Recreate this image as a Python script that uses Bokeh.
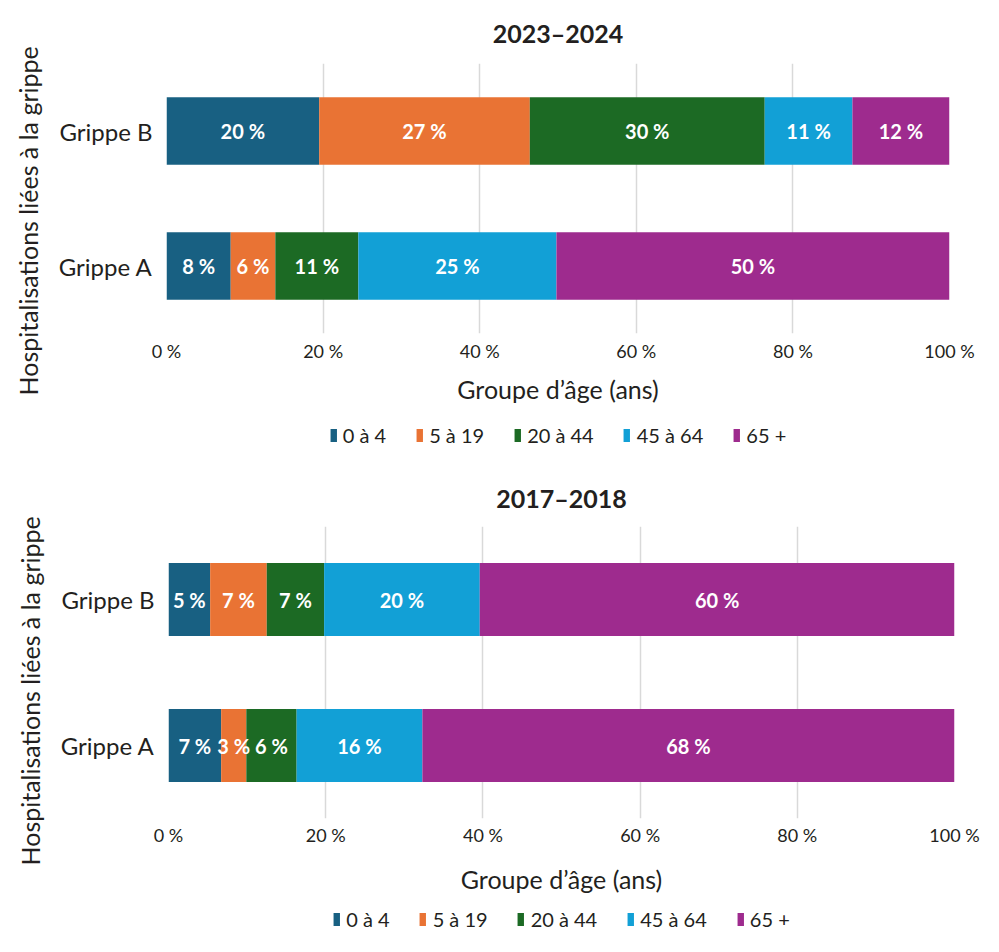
from bokeh.plotting import figure
from bokeh.models import (ColumnDataSource, Legend, LegendItem, Range1d, FactorRange,
                          Title, FixedTicker)
from bokeh.layouts import column
from bokeh.core.properties import value
from bokeh.embed import file_html
from bokeh.resources import INLINE

categories = ["Grippe A", "Grippe B"]
age_groups = ["0 à 4", "5 à 19", "20 à 44", "45 à 64", "65 +"]
colors = ["#186082", "#e97334", "#1c6a24", "#12a0d6", "#9e2b8e"]
titles = ["2023–2024", "2017–2018"]
x_ticks = [0, 20, 40, 60, 80, 100]
x_tick_labels = ["0 %", "20 %", "40 %", "60 %", "80 %", "100 %"]
y_title = "Hospitalisations liées à la grippe"
x_title = "Groupe d’âge (ans)"

# values in % per age group (order of age_groups)
s2324_grippe_a = [8.2, 5.7, 10.6, 25.3, 50.2]
s2324_grippe_b = [19.5, 26.9, 30.0, 11.2, 12.4]
s1718_grippe_a = [6.7, 3.2, 6.4, 16.0, 67.7]
s1718_grippe_b = [5.3, 7.2, 7.3, 19.8, 60.4]

FONT = "Lato"
TXT = "#231f20"


def make_chart(title, vals_a, vals_b, cfg):
    p = figure(width=983, height=cfg["h"], y_range=FactorRange(*categories),
               x_range=Range1d(0, 100), output_backend="svg", toolbar_location=None,
               min_border_left=cfg["left"], min_border_right=cfg["right"],
               min_border_top=cfg["top"], min_border_bottom=cfg["bottom"])
    p.outline_line_color = None

    data = {"cat": categories}
    keys = [f"g{i}" for i in range(len(age_groups))]
    for i, k in enumerate(keys):
        data[k] = [vals_a[i], vals_b[i]]
    src = ColumnDataSource(data)
    p.hbar_stack(keys, y="cat", height=0.5, color=colors, line_color=None, source=src)

    xs, ys, txt = [], [], []
    for cat, vals in zip(categories, [vals_a, vals_b]):
        cum = 0.0
        for v in vals:
            xs.append(cum + v / 2.0)
            ys.append(cat)
            txt.append(f"{int(v + 0.5)} %")
            cum += v
    lsrc = ColumnDataSource(dict(x=xs, y=ys, t=txt))
    p.text(x="x", y="y", text="t", source=lsrc, text_color="white",
           text_font=value(FONT), text_font_style="bold", text_font_size="20px",
           text_align="center", text_baseline="middle")

    p.title.text = title
    p.title.align = "center"
    p.title.text_font = FONT
    p.title.text_font_style = "bold"
    p.title.text_font_size = "25px"
    p.title.text_color = TXT
    p.title.standoff = cfg["title_standoff"]

    xa = p.xaxis[0]
    xa.ticker = FixedTicker(ticks=x_ticks)
    xa.major_label_overrides = {t: l for t, l in zip(x_ticks, x_tick_labels)}
    xa.axis_line_color = None
    xa.major_tick_line_color = None
    xa.minor_tick_line_color = None
    xa.major_tick_out = 0
    xa.major_tick_in = 0
    xa.major_label_standoff = cfg["tick_standoff"]
    xa.major_label_text_font = FONT
    xa.major_label_text_font_size = "18px"
    xa.major_label_text_color = TXT
    xa.axis_label = x_title
    xa.axis_label_standoff = cfg["xlab_standoff"]
    xa.axis_label_text_font = FONT
    xa.axis_label_text_font_style = "normal"
    xa.axis_label_text_font_size = "25px"
    xa.axis_label_text_color = TXT

    ya = p.yaxis[0]
    ya.axis_line_color = None
    ya.major_tick_line_color = None
    ya.minor_tick_line_color = None
    ya.major_tick_out = 0
    ya.major_tick_in = 0
    ya.major_label_standoff = 14
    ya.major_label_text_font = FONT
    ya.major_label_text_font_size = "24px"
    ya.major_label_text_color = TXT

    p.ygrid.grid_line_color = None
    p.xgrid.ticker = FixedTicker(ticks=x_ticks)
    p.xgrid.grid_line_color = "#d9d9d9"
    p.xgrid.grid_line_width = 1.5

    # rotated y title on the left side
    yt = Title(text=y_title, align="left", offset=cfg["yt_offset"], standoff=cfg["yt_standoff"],
               vertical_align="top", text_font=FONT, text_font_size="25px",
               text_font_style="normal", text_color=TXT)
    p.add_layout(yt, "left")

    # legend panel (separate figure, legend inside its frame)
    lf = figure(width=983, height=cfg["leg_h"], x_range=Range1d(0, 1), y_range=Range1d(0, 1),
                output_backend="svg", toolbar_location=None,
                min_border_left=cfg["left"], min_border_right=983 - cfg["left"] - cfg["fw"],
                min_border_top=0, min_border_bottom=0)
    lf.outline_line_color = None
    lf.axis.visible = False
    lf.grid.visible = False
    # placeholder renderers (outside the visible range) that only feed the legend swatches
    rends = [lf.hbar(y=[-5], left=[0], right=[1], height=0.1, color=c, line_color=None)
             for c in colors]
    legend = Legend(items=[LegendItem(label=value(g), renderers=[r]) for g, r in zip(age_groups, rends)],
                    orientation="horizontal", location="center",
                    border_line_color=None, background_fill_alpha=0,
                    label_text_font=FONT, label_text_font_size="20px",
                    label_text_color=TXT, glyph_width=8, glyph_height=16,
                    label_standoff=6, spacing=29, padding=2, margin=0)
    lf.add_layout(legend)

    return column(p, lf, spacing=0)


cfg1 = dict(h=415, left=166, fw=783, right=34, top=62, bottom=82, title_standoff=31,
            tick_standoff=6, xlab_standoff=9, yt_offset=-62, yt_standoff=21, leg_h=40)
cfg2 = dict(h=442, left=168, fw=786, right=29, top=71, bottom=79, title_standoff=27,
            tick_standoff=5, xlab_standoff=15, yt_offset=-47, yt_standoff=22, leg_h=44)

c1 = make_chart(titles[0], s2324_grippe_a, s2324_grippe_b, cfg1)
c2 = make_chart(titles[1], s1718_grippe_a, s1718_grippe_b, cfg2)

layout = column(c1, c2, spacing=0)
open("out.html", "w").write(file_html(layout, INLINE))
